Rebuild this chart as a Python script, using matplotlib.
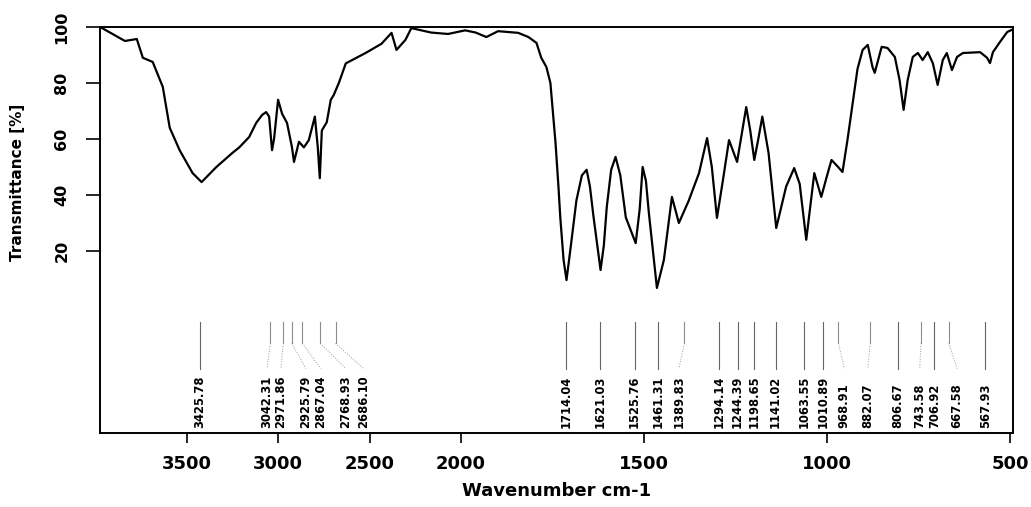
import numpy as np
import matplotlib
matplotlib.use("Agg")
import matplotlib.pyplot as plt

# spectrum trace (wavenumber cm-1, transmittance %)
wavenumber = [3973, 3918, 3837, 3772, 3739, 3685, 3630, 3592, 3538, 3467,
              3418, 3337, 3250, 3212, 3158, 3120, 3087, 3065, 3049, 3033,
              3022, 3000, 2978, 2951, 2924, 2913, 2886, 2859, 2832, 2799,
              2783, 2772, 2761, 2734, 2712, 2696, 2668, 2630, 2522, 2435,
              2380, 2353, 2304, 2272, 2163, 2071, 1989, 1960, 1931, 1899,
              1844, 1816, 1794, 1781, 1767, 1756, 1748, 1742, 1734, 1729,
              1720, 1712, 1700, 1685, 1670, 1657, 1648, 1638, 1619, 1610,
              1602, 1590, 1578, 1565, 1550, 1523, 1512, 1504, 1495, 1487,
              1465, 1446, 1424, 1405, 1378, 1350, 1328, 1315, 1301, 1285,
              1268, 1246, 1233, 1221, 1210, 1199, 1188, 1177, 1160, 1139,
              1112, 1090, 1075, 1057, 1046, 1035, 1016, 1000, 988, 970,
              958, 944, 931, 917, 903, 889, 876, 870, 851, 835, 815, 802,
              791, 780, 766, 752, 739, 725, 711, 698, 684, 673, 659, 645,
              629, 582, 563, 555, 547, 528, 508, 495]
transmittance = [100, 98, 95, 95.7, 89, 87.5, 78.6, 64, 56, 47.8,
                 44.6, 50, 55, 57, 60.7, 65.7, 68.6, 69.6, 68, 56,
                 60, 74, 69, 65.7, 57, 51.8, 59, 57, 59.6, 68,
                 57, 46, 63, 66, 74, 75.7, 80, 87, 90.7, 94,
                 97.9, 91.8, 95.4, 99.6, 98, 97.5, 98.8, 98, 96.4, 98.5,
                 97.9, 96.4, 94.3, 89, 85.7, 80, 68, 58.6, 43, 32,
                 16.8, 9.6, 22, 38, 47, 49, 43, 32, 13.2, 22,
                 35.7, 49, 53.6, 47, 32, 22.8, 35, 50, 45, 33.6,
                 6.8, 16.8, 39.3, 30, 38, 47.8, 60.3, 50, 31.8, 45,
                 59.6, 51.8, 62, 71.4, 63, 52.5, 60, 68, 55, 28.2,
                 43, 49.6, 44, 24, 36, 47.8, 39.3, 47, 52.5, 50,
                 48.2, 60, 72, 85, 91.8, 93.6, 85.7, 83.6, 92.9, 92.5, 89.3, 81,
                 70.4, 81, 89.3, 90.7, 88.2, 91, 87, 79.3, 88.2, 90.7, 84.6, 89.3,
                 90.7, 91, 89, 87.1, 91, 94.6, 98.2, 99]

# picked peaks and where their labels sit
peaks = [3425.78, 3042.31, 2971.86, 2925.79, 2867.04, 2768.93, 2686.10,
         1714.04, 1621.03, 1525.76, 1461.31, 1389.83, 1294.14, 1244.39,
         1198.65, 1141.02, 1063.55, 1010.89, 968.91, 882.07, 806.67,
         743.58, 706.92, 667.58, 567.93]
label_pos = [3425.78, 3060, 2984, 2848, 2766, 2630, 2533,
             1714.04, 1621.03, 1525.76, 1461.31, 1405, 1294.14, 1244.39,
             1198.65, 1141.02, 1063.55, 1010.89, 953, 889, 806.67,
             747, 706.92, 645, 567.93]


def fwd(x):
    x = np.asarray(x, dtype=float)
    return np.where(x > 2000, 2000 + (x - 2000) * 0.5, x)


def inv(u):
    u = np.asarray(u, dtype=float)
    return np.where(u > 2000, 2000 + (u - 2000) * 2.0, u)


plt.rcParams["font.family"] = "DejaVu Sans"
plt.rcParams["font.weight"] = "bold"

fig = plt.figure(figsize=(10.31, 5.07), dpi=100)
ax = fig.add_axes([0.097, 0.146, 0.8856, 0.8008])
ax.set_xscale("function", functions=(fwd, inv))

ax.plot(wavenumber, transmittance, color="black", lw=1.6)

for p, lp in zip(peaks, label_pos):
    if abs(p - lp) < 1:
        ax.plot([p, p], [-5.5, -22], color="0.4", lw=0.8)
    else:
        ax.plot([p, p], [-5.5, -13], color="0.55", lw=0.8)
        ax.plot([p, lp], [-13, -22], color="0.6", lw=0.7, ls=":")
    ax.text(lp, -43.3, f"{p:.2f}", rotation=90, ha="center", va="bottom",
            fontsize=8.3, fontweight="bold")

ax.set_xlim(3973, 492)
ax.set_ylim(-45, 100)
ax.set_xticks([3500, 3000, 2500, 2000, 1500, 1000, 500])
ax.set_xticklabels(["3500", "3000", "2500", "2000", "1500", "1000", "500"])
ax.set_yticks([20, 40, 60, 80, 100])
ax.set_yticklabels(["20", "40", "60", "80", "100"], rotation=90, va="center")
ax.tick_params(axis="x", length=7, width=1.2, pad=9, labelsize=13)
ax.tick_params(axis="y", length=10, width=1.2, pad=12, labelsize=11.5)
for s in ax.spines.values():
    s.set_linewidth(1.4)

ax.set_xlabel("Wavenumber cm-1", fontsize=13, fontweight="bold", labelpad=6)
ax.set_ylabel("Transmittance [%]", fontsize=11, fontweight="bold")
ax.yaxis.set_label_coords(-0.082, 0.618)

fig.savefig("out.png", dpi=100)
